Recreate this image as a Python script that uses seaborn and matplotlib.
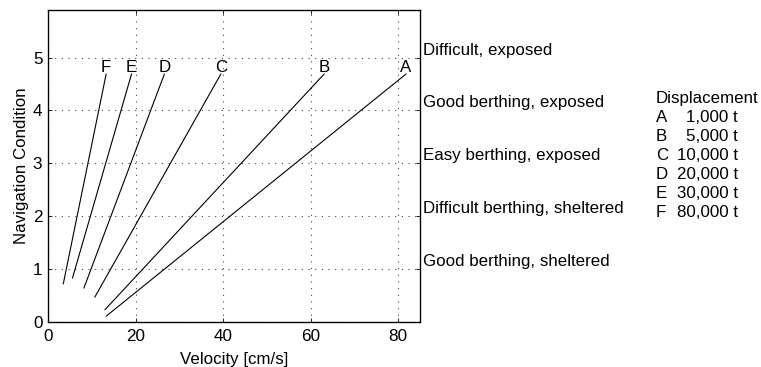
import pandas as pd
import numpy as np
import matplotlib
matplotlib.use('Agg')
import matplotlib.pyplot as plt
import seaborn as sns

# ship classes and their line end points (velocity, navigation condition)
ships = ['A', 'B', 'C', 'D', 'E', 'F']
displacement = ['1,000 t', '5,000 t', '10,000 t', '20,000 t', '30,000 t', '80,000 t']
vel_start = [13.3, 13.0, 10.7, 8.2, 5.6, 3.5]
cond_start = [0.11, 0.23, 0.47, 0.64, 0.83, 0.72]
vel_end = [81.8, 63.1, 39.5, 26.6, 19.1, 13.3]
cond_end = [4.69, 4.69, 4.69, 4.69, 4.69, 4.69]

cond_ticks = [1, 2, 3, 4, 5]
cond_labels = ['Good berthing, sheltered', 'Difficult berthing, sheltered',
               'Easy berthing, exposed', 'Good berthing, exposed', 'Difficult, exposed']

rows = []
for s, v0, c0, v1, c1 in zip(ships, vel_start, cond_start, vel_end, cond_end):
    rows.append({'ship': s, 'Velocity': v0, 'Condition': c0})
    rows.append({'ship': s, 'Velocity': v1, 'Condition': c1})
df = pd.DataFrame(rows)

sns.set_style('ticks')
plt.rcParams['font.family'] = ['Liberation Sans', 'DejaVu Sans']
plt.rcParams['xtick.direction'] = 'in'
plt.rcParams['ytick.direction'] = 'in'
for k in ['text.color', 'axes.labelcolor', 'xtick.color', 'ytick.color', 'axes.edgecolor']:
    plt.rcParams[k] = 'black'

fs = 12.2

fig = plt.figure(figsize=(7.61, 3.67), dpi=100)
ax = fig.add_axes([0.063, 0.1226, 0.489, 0.8502])

sns.lineplot(data=df, x='Velocity', y='Condition', hue='ship',
             palette=['black'] * len(ships), estimator=None, sort=False,
             legend=False, linewidth=0.8, ax=ax)

# letter at the top of each line
for s, v1, c1 in zip(ships, vel_end, cond_end):
    ax.text(v1, c1 - 0.02, s, ha='center', va='bottom', fontsize=fs)

ax.set_xlim(0, 85)
ax.set_ylim(0, 5.9)
ax.set_xticks([0, 20, 40, 60, 80])
ax.set_yticks([0, 1, 2, 3, 4, 5])
ax.tick_params(labelsize=12.3, length=3, top=True, right=False, width=0.6, pad=4)
ax.tick_params(axis='x', pad=5)
ax.grid(True, linestyle=(0, (1, 5)), color='#444444', linewidth=0.8)
for sp in ax.spines.values():
    sp.set_linewidth(0.9)
ax.set_xlabel('Velocity [cm/s]', fontsize=fs, labelpad=6)
ax.set_ylabel('Navigation Condition', fontsize=fs, labelpad=3)

# descriptive labels on the right side
ax2 = ax.twinx()
ax2.set_ylim(ax.get_ylim())
ax2.set_yticks(cond_ticks)
ax2.set_yticklabels(cond_labels, va='bottom', fontsize=fs)
ax2.tick_params(axis='y', length=3, pad=2, width=0.6)

# displacement key
fig.text(656 / 761, 1 - 98 / 367, 'Displacement', fontsize=fs, ha='left', va='center')
for i, (s, d) in enumerate(zip(ships, displacement)):
    y = 1 - (117.3 + 19.1 * i) / 367
    fig.text(656 / 761, y, s, fontsize=fs, ha='left', va='center')
    fig.text(738 / 761, y, d, fontsize=fs, ha='right', va='center')

fig.savefig('out.png', dpi=100)
